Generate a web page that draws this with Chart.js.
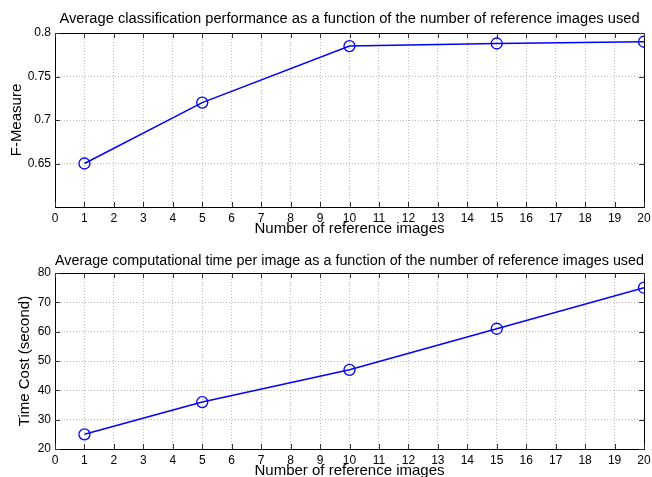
<!DOCTYPE html>
<html>
<head>
<meta charset="utf-8">
<script src="https://cdn.jsdelivr.net/npm/chart.js@4.4.1/dist/chart.umd.min.js"></script>
<style>
  html, body { margin: 0; padding: 0; background: #fff; }
  #wrap { width: 652px; height: 477px; overflow: hidden; position: relative; }
  .box { position: absolute; left: 0; width: 652px; }
  #box1 { top: 0; height: 238px; }
  #box2 { top: 238px; height: 242px; }
</style>
</head>
<body>
<div id="wrap">
  <div class="box" id="box1"><canvas id="chart-fmeasure"></canvas></div>
  <div class="box" id="box2"><canvas id="chart-time"></canvas></div>
</div>
<script>
// ── Data ────────────────────────────────────────────────────

const refImages = [1, 5, 10, 15, 20];
const fMeasure = [0.65, 0.72, 0.785, 0.788, 0.79];
const timeCost = [25, 36, 47, 61, 75];

const xTicks = [0, 1, 2, 3, 4, 5, 6, 7, 8, 9, 10, 11, 12, 13, 14, 15, 16, 17, 18, 19, 20];
const yTicksTop = [0.65, 0.7, 0.75, 0.8];
const yTicksBottom = [20, 30, 40, 50, 60, 70, 80];

const titleTop = 'Average classification performance as a function of the number of reference images used';
const titleBottom = 'Average computational time per image as a function of the number of reference images used';
const xLabel = 'Number of reference images';

// ── Style ───────────────────────────────────────────────────

const FONT = 'Arial, "Liberation Sans", Helvetica, sans-serif';
const LINE_BLUE = '#0000ff';
const GRID_GREY = '#a8a8a8';

// matlab-ish box + inward tick marks
const boxPlugin = {
    id: 'matlabBox',
    afterDraw(chart) {
        const { ctx, chartArea: a, scales } = chart;
        ctx.save();
        ctx.strokeStyle = '#000';
        ctx.lineWidth = 1;
        ctx.strokeRect(Math.round(a.left) + 0.5, Math.round(a.top) + 0.5,
            Math.round(a.right - a.left), Math.round(a.bottom - a.top));
        ctx.strokeStyle = '#333';
        ctx.beginPath();
        scales.x.ticks.forEach(t => {
            const px = Math.round(scales.x.getPixelForValue(t.value)) + 0.5;
            ctx.moveTo(px, a.bottom); ctx.lineTo(px, a.bottom - 5);
            ctx.moveTo(px, a.top); ctx.lineTo(px, a.top + 5);
        });
        scales.y.ticks.forEach(t => {
            const py = Math.round(scales.y.getPixelForValue(t.value)) + 0.5;
            ctx.moveTo(a.left, py); ctx.lineTo(a.left + 5, py);
            ctx.moveTo(a.right, py); ctx.lineTo(a.right - 5, py);
        });
        ctx.stroke();
        ctx.restore();
    }
};

function makeChart(canvasId, opts) {
    const el = document.getElementById(canvasId);
    return new Chart(el, {
        type: 'line',
        data: {
            datasets: [{
                data: refImages.map((x, i) => ({ x: x, y: opts.values[i] })),
                borderColor: LINE_BLUE,
                borderWidth: 1.5,
                backgroundColor: 'rgba(0,0,0,0)',
                pointRadius: 5.5,
                pointBorderWidth: 1.3,
                pointBorderColor: LINE_BLUE,
                pointBackgroundColor: 'rgba(0,0,0,0)',
                tension: 0,
            }]
        },
        options: {
            responsive: true,
            maintainAspectRatio: false,
            animation: false,
            layout: { padding: { left: 0, right: 8, top: 0, bottom: 0 } },
            plugins: {
                legend: { display: false },
                tooltip: { enabled: false },
                title: {
                    display: true,
                    fullSize: false,
                    text: opts.title,
                    color: '#000',
                    font: { family: FONT, size: 14.7, weight: 'normal' },
                    padding: opts.titlePadding,
                }
            },
            scales: {
                x: {
                    type: 'linear',
                    min: 0, max: 20,
                    afterBuildTicks: s => { s.ticks = xTicks.map(v => ({ value: v })); },
                    afterFit: s => {
                        s.height = opts.xHeight;
                        s.paddingRight = 0;
                        s.paddingLeft = 0;
                    },
                    ticks: { color: '#000', font: { family: FONT, size: 12 }, padding: 4, maxRotation: 0 },
                    grid: { color: GRID_GREY, lineWidth: 0.8, drawTicks: false },
                    border: { display: false, dash: [1, 2] },
                    title: {
                        display: true, text: xLabel, color: '#000',
                        font: { family: FONT, size: 15 }, padding: { top: 0, bottom: 0 }
                    }
                },
                y: {
                    type: 'linear',
                    min: opts.yMin, max: opts.yMax,
                    afterBuildTicks: s => { s.ticks = opts.yTicks.map(v => ({ value: v })); },
                    afterFit: s => { s.width = 55; },
                    ticks: {
                        color: '#000', font: { family: FONT, size: 12 }, padding: 4,
                        callback: v => String(v)
                    },
                    grid: { color: GRID_GREY, lineWidth: 0.8, drawTicks: false },
                    border: { display: false, dash: [1, 2] },
                    title: {
                        display: true, text: opts.yLabel, color: '#000',
                        font: { family: FONT, size: 15 }, padding: opts.yTitlePadding
                    }
                }
            }
        },
        plugins: [boxPlugin]
    });
}

document.addEventListener('DOMContentLoaded', () => {
    makeChart('chart-fmeasure', {
        title: titleTop,
        values: fMeasure,
        yMin: 0.6, yMax: 0.8,
        yTicks: yTicksTop,
        yLabel: 'F-Measure',
        titlePadding: { top: 10, bottom: 5.4 },
        xHeight: 31,
        yTitlePadding: { top: 8, bottom: 0 },
    });
    makeChart('chart-time', {
        title: titleBottom,
        values: timeCost,
        yMin: 20, yMax: 80,
        yTicks: yTicksBottom,
        yLabel: 'Time Cost (second)',
        titlePadding: { top: 14, bottom: 3.4 },
        xHeight: 31,
        yTitlePadding: { top: 16, bottom: 0 },
    });
});
</script>
</body>
</html>
